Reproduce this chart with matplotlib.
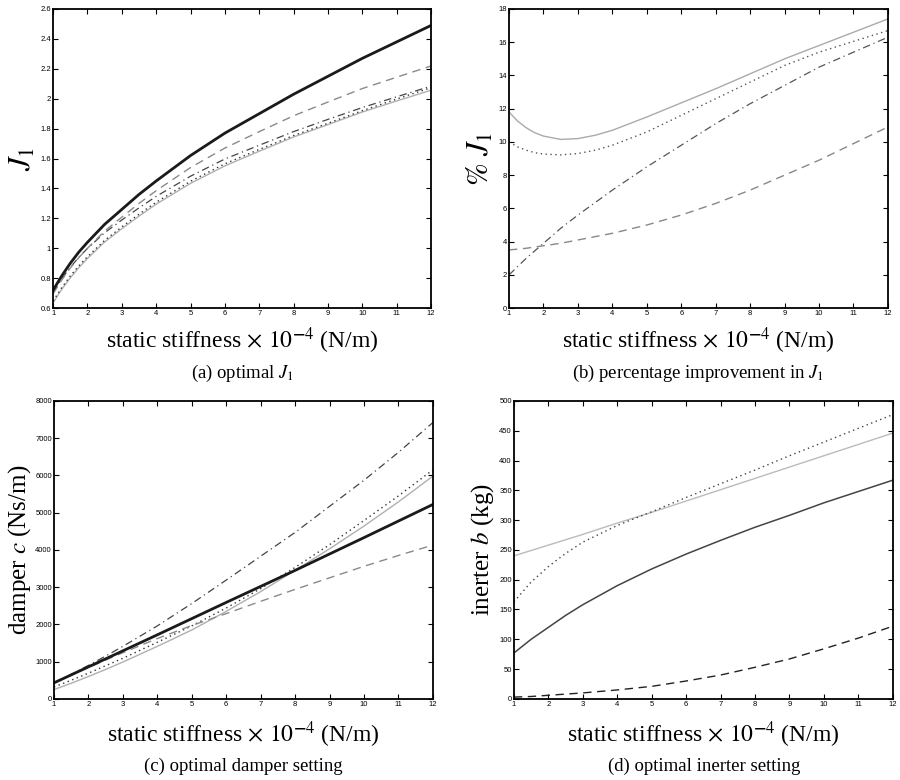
import matplotlib
matplotlib.use("Agg")
import matplotlib.pyplot as plt
from matplotlib.ticker import FuncFormatter

plt.rcParams['font.family'] = ['Liberation Serif', 'DejaVu Serif']
plt.rcParams['mathtext.fontset'] = 'stix'

# static stiffness x 1e-4 (N/m), finer steps near the left where curves bend
stiff_ab = [1, 1.25, 1.5, 1.75, 2, 2.5, 3, 3.5, 4, 5, 6, 7, 8, 9, 10, 11, 12]
stiff_cd = [1, 1.5, 2, 2.5, 3, 4, 5, 6, 7, 8, 9, 10, 11, 12]

# (a) optimal J1
j1_thick = [0.72, 0.815, 0.90, 0.975, 1.04, 1.16, 1.26, 1.36, 1.45, 1.62, 1.77, 1.90, 2.03, 2.15, 2.27, 2.38, 2.49]
j1_dash = [0.695, 0.787, 0.868, 0.938, 1.00, 1.115, 1.208, 1.30, 1.385, 1.54, 1.67, 1.78, 1.886, 1.978, 2.068, 2.144, 2.219]
j1_dashdot = [0.706, 0.795, 0.873, 0.940, 0.999, 1.104, 1.189, 1.27, 1.347, 1.482, 1.597, 1.689, 1.78, 1.862, 1.941, 2.013, 2.084]
j1_dot = [0.648, 0.736, 0.815, 0.883, 0.944, 1.053, 1.143, 1.228, 1.308, 1.448, 1.565, 1.661, 1.754, 1.836, 1.92, 1.998, 2.074]
j1_light = [0.635, 0.725, 0.802, 0.871, 0.932, 1.042, 1.131, 1.215, 1.295, 1.434, 1.551, 1.649, 1.744, 1.827, 1.911, 1.985, 2.057]

# (b) percentage improvement in J1
pc_light = [11.8, 11.25, 10.85, 10.55, 10.35, 10.15, 10.2, 10.4, 10.7, 11.5, 12.35, 13.2, 14.1, 15.0, 15.8, 16.6, 17.4]
pc_dot = [10.0, 9.7, 9.5, 9.35, 9.27, 9.22, 9.3, 9.5, 9.8, 10.6, 11.6, 12.6, 13.6, 14.6, 15.4, 16.05, 16.7]
pc_dashdot = [2.0, 2.5, 3.0, 3.45, 3.9, 4.8, 5.6, 6.35, 7.1, 8.5, 9.8, 11.1, 12.3, 13.4, 14.5, 15.4, 16.3]
pc_dash = [3.5, 3.55, 3.6, 3.68, 3.75, 3.9, 4.1, 4.3, 4.5, 5.0, 5.6, 6.3, 7.1, 8.0, 8.9, 9.9, 10.9]

# (c) optimal damper setting c (Ns/m)
c_thick = [430, 645, 860, 1075, 1290, 1720, 2155, 2590, 3020, 3450, 3890, 4330, 4775, 5220]
c_dashdot = [430, 660, 900, 1150, 1410, 1960, 2560, 3190, 3830, 4470, 5170, 5870, 6620, 7420]
c_dot = [320, 500, 690, 890, 1090, 1520, 1960, 2440, 2960, 3530, 4140, 4790, 5450, 6150]
c_light = [250, 420, 600, 790, 990, 1410, 1850, 2350, 2880, 3450, 4030, 4640, 5290, 5980]
c_dash = [440, 640, 840, 1040, 1240, 1620, 1970, 2290, 2620, 2940, 3250, 3560, 3850, 4130]

# (d) optimal inerter setting b (kg)
b_light = [240, 249, 258, 267, 276, 295, 313, 332, 351, 370, 389, 408, 427, 446]
b_dot = [163, 196, 222, 244, 263, 291, 314, 338, 361, 384, 408, 431, 454, 477]
b_dark = [77, 100, 120, 140, 158, 190, 218, 243, 266, 288, 308, 329, 348, 367]
b_dash = [3, 4, 6, 8, 10, 15, 21, 30, 40, 53, 67, 84, 102, 122]

xticks = list(range(1, 13))
xlabel = r'static stiffness$\,\times\,10^{\mathbf{-}4}$ (N/m)'

DASH = (0, (6, 4))
DASHDOT = (0, (6, 3, 1, 3))
DOT = (0, (1, 2.5))


def style_axes(ax, ylim, yticks, ylabel, ylabel_size, xpad):
    ax.set_xlim(1, 12)
    ax.set_ylim(*ylim)
    ax.set_xticks(xticks)
    ax.set_yticks(yticks)
    ax.yaxis.set_major_formatter(FuncFormatter(lambda v, p: '%g' % round(v, 6)))
    ax.tick_params(direction='in', top=True, right=True, length=3.5, width=0.8,
                   labelsize=5.5, pad=1.5)
    for lab in ax.get_xticklabels() + ax.get_yticklabels():
        lab.set_family('Liberation Sans')
    for s in ax.spines.values():
        s.set_linewidth(1.3)
    ax.set_xlabel(xlabel, fontsize=17, labelpad=xpad)
    ax.set_ylabel(ylabel, fontsize=ylabel_size, labelpad=2)


fig = plt.figure(figsize=(9, 7.8), dpi=100)
ax_a = fig.add_axes([0.059, 0.605, 0.420, 0.3835])
ax_b = fig.add_axes([0.5656, 0.605, 0.421, 0.3835])
ax_c = fig.add_axes([0.060, 0.104, 0.421, 0.382])
ax_d = fig.add_axes([0.571, 0.104, 0.421, 0.382])

# panel (a)
ax_a.plot(stiff_ab, j1_light, color='#b0b0b0', lw=1.0)
ax_a.plot(stiff_ab, j1_dot, color='#333333', lw=1.0, ls=DOT)
ax_a.plot(stiff_ab, j1_dashdot, color='#444444', lw=0.9, ls=DASHDOT)
ax_a.plot(stiff_ab, j1_dash, color='#8a8a8a', lw=1.0, ls=DASH)
ax_a.plot(stiff_ab, j1_thick, color='#1a1a1a', lw=2.0)
style_axes(ax_a, (0.6, 2.6), [0.6 + 0.2 * i for i in range(11)], r'$J_1$', 22, 6)

# panel (b)
ax_b.plot(stiff_ab, pc_light, color='#aaaaaa', lw=1.0)
ax_b.plot(stiff_ab, pc_dot, color='#555555', lw=1.0, ls=DOT)
ax_b.plot(stiff_ab, pc_dashdot, color='#555555', lw=0.9, ls=DASHDOT)
ax_b.plot(stiff_ab, pc_dash, color='#888888', lw=1.0, ls=DASH)
style_axes(ax_b, (0, 18), list(range(0, 19, 2)), r'$\%\ J_1$', 22, 6)

# panel (c)
ax_c.plot(stiff_cd, c_light, color='#b0b0b0', lw=1.0)
ax_c.plot(stiff_cd, c_dot, color='#333333', lw=1.0, ls=DOT)
ax_c.plot(stiff_cd, c_dashdot, color='#444444', lw=0.9, ls=DASHDOT)
ax_c.plot(stiff_cd, c_dash, color='#8a8a8a', lw=1.0, ls=DASH)
ax_c.plot(stiff_cd, c_thick, color='#1a1a1a', lw=2.0)
style_axes(ax_c, (0, 8000), list(range(0, 8001, 1000)), r'damper $c$ (Ns/m)', 18, 8)

# panel (d)
ax_d.plot(stiff_cd, b_light, color='#bbbbbb', lw=1.0)
ax_d.plot(stiff_cd, b_dot, color='#444444', lw=1.0, ls=DOT)
ax_d.plot(stiff_cd, b_dark, color='#444444', lw=1.1)
ax_d.plot(stiff_cd, b_dash, color='#222222', lw=1.0, ls=DASH)
style_axes(ax_d, (0, 500), list(range(0, 501, 50)), r'inerter $b$ (kg)', 18, 8)

# captions
fig.text(0.269, 0.521, r'(a) optimal $J_1$', ha='center', va='center', fontsize=13.5)
fig.text(0.776, 0.521, r'(b) percentage improvement in $J_1$', ha='center', va='center', fontsize=13.5)
fig.text(0.270, 0.017, '(c) optimal damper setting', ha='center', va='center', fontsize=13.5)
fig.text(0.782, 0.017, '(d) optimal inerter setting', ha='center', va='center', fontsize=13.5)

fig.savefig('out.png', dpi=100)
